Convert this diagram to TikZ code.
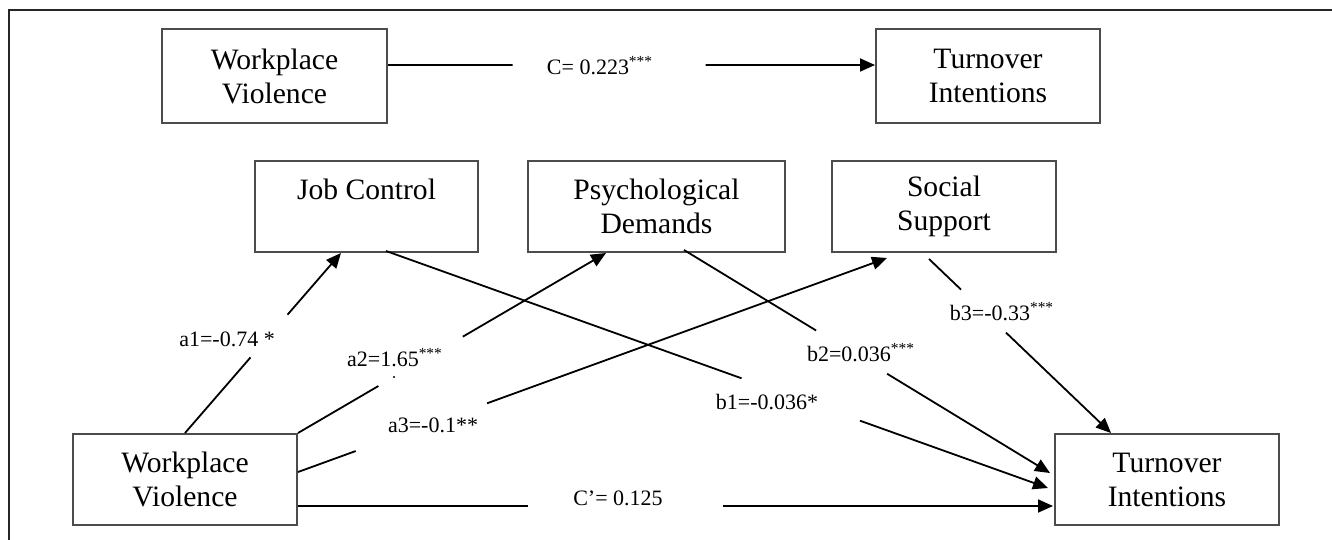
\documentclass[tikz,border=0pt]{standalone}
\usepackage{fontspec}
\setmainfont{Liberation Serif}
\usetikzlibrary{calc,arrows.meta}
\begin{document}
\begin{tikzpicture}[x=0.5pt,y=-0.5pt,
 box/.style={draw=black!70, line width=1pt, rectangle, inner sep=0pt, minimum height=45.5pt, align=center, font=\fontsize{14.8}{17}\selectfont},
 conn/.style={line width=0.9pt, black},
 arr/.style={conn, -{Triangle[length=7.5pt,width=6.5pt]}},
 lbl/.style={inner sep=0pt, font=\fontsize{11}{13}\selectfont},
 frameline/.style={line width=0.9pt, black!85}]
\useasboundingbox (0,0) rectangle (1332,540);
\coordinate (fbl) at (9,540);
\coordinate (ftl) at (9,10);
\coordinate (ftr) at (1332,10);
\draw[frameline] (fbl) -- (ftl) -- (ftr);

% boxes
\node[box, minimum width=112.5pt, minimum height=47pt] (wv1) at (274.5,76) {Workplace\\Violence};
\node[box, minimum width=112pt, minimum height=47pt] (ti1) at (988,76) {Turnover\\Intentions};
\node[box, minimum width=111.5pt] (jc) at (366.5,206.5) {Job Control\\\mbox{}};
\node[box, minimum width=128.5pt] (pd) at (656.5,206.5) {Psychological\\Demands};
\node[box, minimum width=112pt] (ss) at (944,206.5) {Social\\Support};
\node[box, minimum width=112pt] (wv2) at (185,479.5) {Workplace\\Violence};
\node[box, minimum width=112pt] (ti2) at (1167,479.5) {Turnover\\Intentions};

% endpoints
\coordinate (cs) at ($(wv1.east)+(0,-11)$);
\coordinate (ce) at ($(ti1.west)+(0,-11)$);
\coordinate (a1s) at ($(wv2.north west)+(113,0)$);
\coordinate (a1e) at ($(jc.south west)+(87,0)$);
\coordinate (a2s) at (wv2.north east);
\coordinate (a2e) at ($(pd.south west)+(79,0)$);
\coordinate (a3s) at ($(wv2.east)+(0,-7.5)$);
\coordinate (a3e) at ($(ss.south west)+(56,5)$);
\coordinate (b1s) at ($(jc.south west)+(132,-2)$);
\coordinate (b1e) at ($(ti2.west)+(-6,8.5)$);
\coordinate (b2s) at ($(pd.south west)+(157,-3)$);
\coordinate (b2e) at ($(ti2.west)+(-4,-6.5)$);
\coordinate (b3s) at ($(ss.south west)+(98,6)$);
\coordinate (b3e) at ($(ti2.north west)+(57,0)$);
\coordinate (cps) at ($(wv2.east)+(0,26.5)$);
\coordinate (cpe) at ($(ti2.west)+(-1,26.5)$);

% connectors with gaps
\draw[conn] (cs) -- ($(cs)!0.256!(ce)$);
\draw[arr] ($(cs)!0.652!(ce)$) -- (ce);
\draw[conn] (a1s) -- ($(a1s)!0.42!(a1e)$);
\draw[arr] ($(a1s)!0.657!(a1e)$) -- (a1e);
\draw[conn] (a2s) -- ($(a2s)!0.261!(a2e)$);
\draw[arr] ($(a2s)!0.535!(a2e)$) -- (a2e);
\draw[conn] (a3s) -- ($(a3s)!0.098!(a3e)$);
\draw[arr] ($(a3s)!0.321!(a3e)$) -- (a3e);
\draw[conn] (b1s) -- ($(b1s)!0.537!(b1e)$);
\draw[arr] ($(b1s)!0.716!(b1e)$) -- (b1e);
\draw[conn] (b2s) -- ($(b2s)!0.361!(b2e)$);
\draw[arr] ($(b2s)!0.555!(b2e)$) -- (b2e);
\draw[conn] (b3s) -- ($(b3s)!0.176!(b3e)$);
\draw[arr] ($(b3s)!0.423!(b3e)$) -- (b3e);
\draw[conn] (cps) -- ($(cps)!0.305!(cpe)$);
\draw[arr] ($(cps)!0.563!(cpe)$) -- (cpe);

% labels
\node[lbl] (lc) at (600,66) {C= 0.223\textsuperscript{***}};
\node[lbl] (la1) at (227,339) {a1=-0.74 *};
\node[lbl] (la2) at (395,358) {a2=1.65\textsuperscript{***}};
\fill (394,377) circle (0.6pt);
\node[lbl] (la3) at (433,425) {a3=-0.1**};
\node[lbl] (lb1) at (767,402) {b1=-0.036*};
\node[lbl] (lb2) at (861,353) {b2=0.036\textsuperscript{***}};
\node[lbl] (lb3) at (1002,312) {b3=-0.33\textsuperscript{***}};
\node[lbl] (lcp) at (618,498) {C’= 0.125};
\end{tikzpicture}
\end{document}
